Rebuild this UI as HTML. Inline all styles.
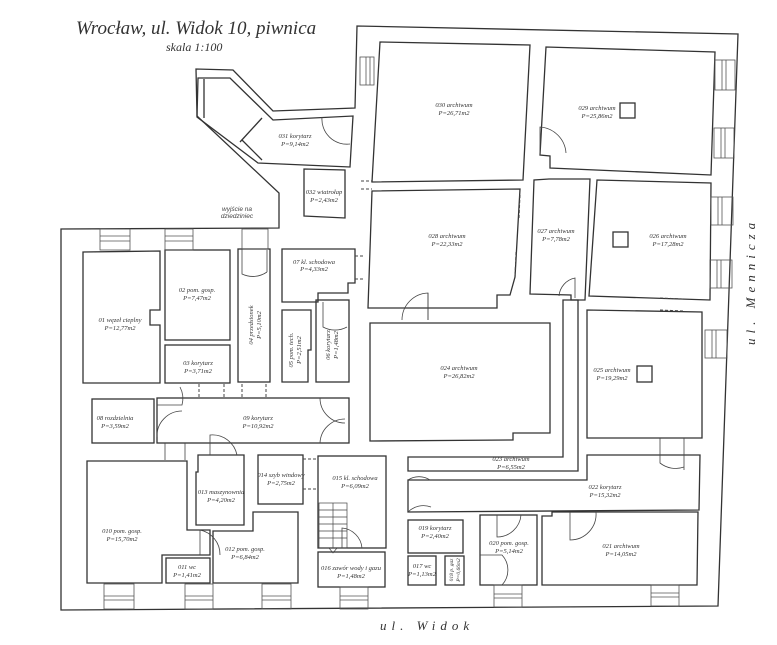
<!DOCTYPE html>
<html><head><meta charset="utf-8"><style>
html,body{margin:0;padding:0;background:#fff;}
svg{display:block}
text{font-family:"Liberation Serif",serif;font-style:italic;fill:#333}
.l{font-family:"Liberation Sans",sans-serif;font-size:6.5px;fill:#444}
</style></head><body>
<svg width="777" height="645" viewBox="0 0 777 645" xmlns="http://www.w3.org/2000/svg">
<g fill="none" stroke="#333" stroke-width="1.3">
<polygon points="61,229 279,228 279,193 197,116 196,69 233,70 273,111 355,108 357,26 738,34 718,606 61,610"/>
<polygon points="198,78 230,78 273,120 353,116 350,167 258,163 197,117"/>
<line x1="204" y1="79" x2="204" y2="118"/>
<line x1="240" y1="142" x2="262" y2="118"/><line x1="262" y1="160" x2="242" y2="140"/>
<polygon points="304,169 345,170 345,218 304,216"/>
<polygon points="380,42 530,45 523,180 372,182"/>
<polygon points="546,47 715,52 711,175 550,168 550,156 540,155"/>
<rect x="620" y="103" width="15" height="15"/>
<polygon points="372,191 520,189 515,277 510,295 497,295 497,308 368,308"/>
<polygon points="549,179 590,179 585,300 571,300 571,295 530,294 534,180"/>
<polygon points="597,180 711,183 710,300 589,296"/>
<rect x="613" y="232" width="15" height="15"/>
<polygon points="370,323 550,323 550,433 513,433 513,440 370,441"/>
<polygon points="587,310 702,312 702,438 587,438"/>
<rect x="637" y="366" width="15" height="16"/>
<polygon points="408,457 563,457 563,300 578,300 578,471 408,471"/>
<polygon points="408,480 587,480 587,455 700,455 699,510 408,512"/>
<rect x="408" y="520" width="55" height="33"/>
<rect x="408" y="556" width="28" height="29"/>
<rect x="445" y="556" width="19" height="29"/>
<rect x="480" y="515" width="57" height="70"/>
<polygon points="542,516 552,516 552,512 698,512 697,585 542,585"/>
<polygon points="83,252 160,251 160,310 150,310 150,325 160,325 160,383 83,383"/>
<rect x="165" y="250" width="65" height="90"/>
<rect x="165" y="345" width="65" height="38"/>
<rect x="238" y="249" width="32" height="133"/>
<polygon points="282,249 355,249 355,283 348,283 348,293 318,293 318,302 282,302"/>
<polygon points="282,310 311,310 311,350 308,350 308,382 282,382"/>
<rect x="316" y="300" width="33" height="82"/>
<rect x="92" y="399" width="62" height="44"/>
<rect x="157" y="398" width="192" height="45"/>
<polygon points="87,461 187,461 187,530 210,530 210,555 162,555 162,583 87,583"/>
<rect x="166" y="558" width="44" height="25"/>
<polygon points="198,455 244,455 244,525 196,525 196,472 198,472"/>
<polygon points="253,512 298,512 298,583 213,583 213,531 253,531"/>
<rect x="258" y="455" width="45" height="49"/>
<rect x="318" y="456" width="68" height="92"/>
<rect x="318" y="552" width="67" height="35"/>
</g>
<g stroke="#444" stroke-width="0.7" fill="none">
<rect x="319" y="503" width="28" height="45"/>
<line x1="333" y1="503" x2="333" y2="548"/>
<line x1="319" y1="510" x2="347" y2="510"/><line x1="319" y1="517" x2="347" y2="517"/><line x1="319" y1="524" x2="347" y2="524"/><line x1="319" y1="531" x2="347" y2="531"/><line x1="319" y1="538" x2="347" y2="538"/>
<path d="M329,548 l4,5 l4,-5"/>
</g>
<g stroke="#555" stroke-width="0.8" fill="none">
<rect x="100" y="229" width="30" height="21"/><line x1="100" y1="236" x2="130" y2="236"/><line x1="100" y1="241" x2="130" y2="241"/>
<rect x="165" y="229" width="28" height="21"/><line x1="165" y1="236" x2="193" y2="236"/><line x1="165" y1="241" x2="193" y2="241"/>
<rect x="242" y="229" width="26" height="20"/>
<rect x="104" y="584" width="30" height="25"/><line x1="104" y1="596" x2="134" y2="596"/><line x1="104" y1="600" x2="134" y2="600"/>
<rect x="185" y="584" width="28" height="25"/><line x1="185" y1="596" x2="213" y2="596"/><line x1="185" y1="600" x2="213" y2="600"/>
<rect x="262" y="584" width="29" height="25"/><line x1="262" y1="596" x2="291" y2="596"/><line x1="262" y1="600" x2="291" y2="600"/>
<rect x="340" y="587" width="28" height="22"/><line x1="340" y1="596" x2="368" y2="596"/><line x1="340" y1="600" x2="368" y2="600"/>
<rect x="494" y="585" width="28" height="22"/><line x1="494" y1="594" x2="522" y2="594"/><line x1="494" y1="598" x2="522" y2="598"/>
<rect x="651" y="585" width="28" height="21"/><line x1="651" y1="593" x2="679" y2="593"/><line x1="651" y1="597" x2="679" y2="597"/>
<rect x="715" y="60" width="20" height="30"/><line x1="722" y1="60" x2="722" y2="90"/><line x1="726" y1="60" x2="726" y2="90"/>
<rect x="714" y="128" width="20" height="30"/><line x1="721" y1="128" x2="721" y2="158"/><line x1="725" y1="128" x2="725" y2="158"/>
<rect x="711" y="197" width="22" height="28"/><line x1="718" y1="197" x2="718" y2="225"/><line x1="722" y1="197" x2="722" y2="225"/>
<rect x="710" y="260" width="22" height="28"/><line x1="717" y1="260" x2="717" y2="288"/><line x1="721" y1="260" x2="721" y2="288"/>
<rect x="705" y="330" width="22" height="28"/><line x1="712" y1="330" x2="712" y2="358"/><line x1="716" y1="330" x2="716" y2="358"/>
<rect x="360" y="57" width="14" height="28"/><line x1="366" y1="57" x2="366" y2="85"/><line x1="370" y1="57" x2="370" y2="85"/>
</g>
<g stroke="#444" stroke-width="1" stroke-dasharray="3,2" fill="none">
<line x1="355" y1="256" x2="365" y2="256"/><line x1="355" y1="279" x2="365" y2="279"/>
<line x1="361" y1="181" x2="372" y2="181"/><line x1="361" y1="189" x2="372" y2="189"/>
<line x1="199" y1="384" x2="199" y2="398"/><line x1="224" y1="384" x2="224" y2="398"/>
<line x1="242" y1="384" x2="242" y2="398"/><line x1="266" y1="384" x2="266" y2="398"/>
<line x1="303" y1="459" x2="318" y2="459"/><line x1="303" y1="489" x2="318" y2="489"/>
<line x1="520" y1="195" x2="519" y2="218"/><line x1="516" y1="252" x2="515" y2="276"/>
<line x1="660" y1="298" x2="683" y2="299"/><line x1="660" y1="310" x2="683" y2="311"/>
</g>
<g stroke="#444" stroke-width="0.8" fill="none">
<path d="M242,249 v25 a25,25 0 0 0 25,-2"/><line x1="267" y1="250" x2="267" y2="272"/>
<path d="M323,302 v25 a25,25 0 0 0 24,0"/>
<path d="M157,405 h25 a25,25 0 0 0 -2,-18"/>
<path d="M157,437 a25,25 0 0 1 25,-26"/><line x1="165" y1="443" x2="165" y2="460"/><line x1="185" y1="443" x2="185" y2="460"/>
<path d="M210,455 v-20 a25,25 0 0 1 27,20"/>
<path d="M320,443 a25,25 0 0 1 25,-24"/><path d="M320,398 a25,25 0 0 0 25,25"/>
<path d="M200,555 v-25 a25,25 0 0 1 20,25"/>
<path d="M342,548 v-20 a22,22 0 0 1 20,20"/>
<path d="M428,320 v-27 a27,27 0 0 0 -26,27"/><line x1="428" y1="293" x2="428" y2="320"/>
<path d="M540,155 v-28 a28,28 0 0 1 26,26"/>
<path d="M575,298 v-20 a20,20 0 0 0 -16,18"/>
<path d="M660,438 v25 a25,25 0 0 0 24,4"/><line x1="684" y1="438" x2="684" y2="470"/>
<path d="M322,117 a25,25 0 0 0 28,27"/>
<path d="M408,480 a20,20 0 0 1 22,0"/><path d="M408,512 a22,22 0 0 1 23,-5"/>
<path d="M497,515 v22 a24,24 0 0 0 24,-22"/>
<path d="M570,512 v28 a26,26 0 0 0 26,-28"/>
<path d="M480,555 h22 a22,22 0 0 1 0,30"/>
</g>
<text x="76" y="34" font-size="19">Wrocław, ul. Widok 10, piwnica</text>
<text x="166" y="51" font-size="12">skala 1:100</text>
<text x="380" y="630" font-size="13" letter-spacing="5">ul. Widok</text>
<text transform="translate(755,345) rotate(-90)" font-size="13" letter-spacing="5">ul. Mennicza</text>
<text class="l" x="237" y="211" text-anchor="middle" font-size="6">wyjście na</text>
<text class="l" x="237" y="218" text-anchor="middle" font-size="6">dziedziniec</text>
<g class="l" text-anchor="middle">
<text x="120" y="322">01 węzeł cieplny</text><text x="120" y="330">P=12,77m2</text>
<text x="197" y="292">02 pom. gosp.</text><text x="197" y="300">P=7,47m2</text>
<text x="198" y="365">03 korytarz</text><text x="198" y="373">P=3,71m2</text>
<text x="115" y="420">08 rozdzielnia</text><text x="115" y="428">P=3,59m2</text>
<text x="258" y="420">09 korytarz</text><text x="258" y="428">P=10,92m2</text>
<text x="314" y="264">07 kl. schodowa</text><text x="314" y="271">P=4,33m2</text>
<text x="122" y="533">010 pom. gosp.</text><text x="122" y="541">P=15,70m2</text>
<text x="187" y="569">011 wc</text><text x="187" y="577">P=1,41m2</text>
<text x="245" y="551">012 pom. gosp.</text><text x="245" y="559">P=6,84m2</text>
<text x="221" y="494">013 maszynownia</text><text x="221" y="502">P=4,20m2</text>
<text x="281" y="477">014 szyb windowy</text><text x="281" y="485">P=2,75m2</text>
<text x="355" y="480">015 kl. schodowa</text><text x="355" y="488">P=6,09m2</text>
<text x="351" y="570">016 zawór wody i gazu</text><text x="351" y="578">P=1,48m2</text>
<text x="422" y="568">017 wc</text><text x="422" y="576">P=1,13m2</text>
<text x="435" y="530">019 korytarz</text><text x="435" y="538">P=2,40m2</text>
<text x="509" y="545">020 pom. gosp.</text><text x="509" y="553">P=5,14m2</text>
<text x="621" y="548">021 archiwum</text><text x="621" y="556">P=14,05m2</text>
<text x="605" y="489">022 korytarz</text><text x="605" y="497">P=15,32m2</text>
<text x="511" y="461">023 archiwum</text><text x="511" y="469">P=6,55m2</text>
<text x="459" y="370">024 archiwum</text><text x="459" y="378">P=26,82m2</text>
<text x="612" y="372">025 archiwum</text><text x="612" y="380">P=19,29m2</text>
<text x="668" y="238">026 archiwum</text><text x="668" y="246">P=17,28m2</text>
<text x="556" y="233">027 archiwum</text><text x="556" y="241">P=7,78m2</text>
<text x="447" y="238">028 archiwum</text><text x="447" y="246">P=22,33m2</text>
<text x="597" y="110">029 archiwum</text><text x="597" y="118">P=25,86m2</text>
<text x="454" y="107">030 archiwum</text><text x="454" y="115">P=26,71m2</text>
<text x="295" y="138">031 korytarz</text><text x="295" y="146">P=9,14m2</text>
<text x="324" y="194">032 wiatrołap</text><text x="324" y="202">P=2,43m2</text>
<text transform="translate(253,325) rotate(-90)">04 przedsionek</text><text transform="translate(261,325) rotate(-90)">P=5,10m2</text>
<text transform="translate(293,350) rotate(-90)">05 pom. tech.</text><text transform="translate(301,350) rotate(-90)">P=2,51m2</text>
<text transform="translate(330,345) rotate(-90)">06 korytarz</text><text transform="translate(338,345) rotate(-90)">P=1,48m2</text>
<text transform="translate(453,570) rotate(-90)" font-size="5.5">018 p. gaz</text><text transform="translate(460,570) rotate(-90)" font-size="5.5">P=0,66m2</text>
</g>
</svg>
</body></html>
